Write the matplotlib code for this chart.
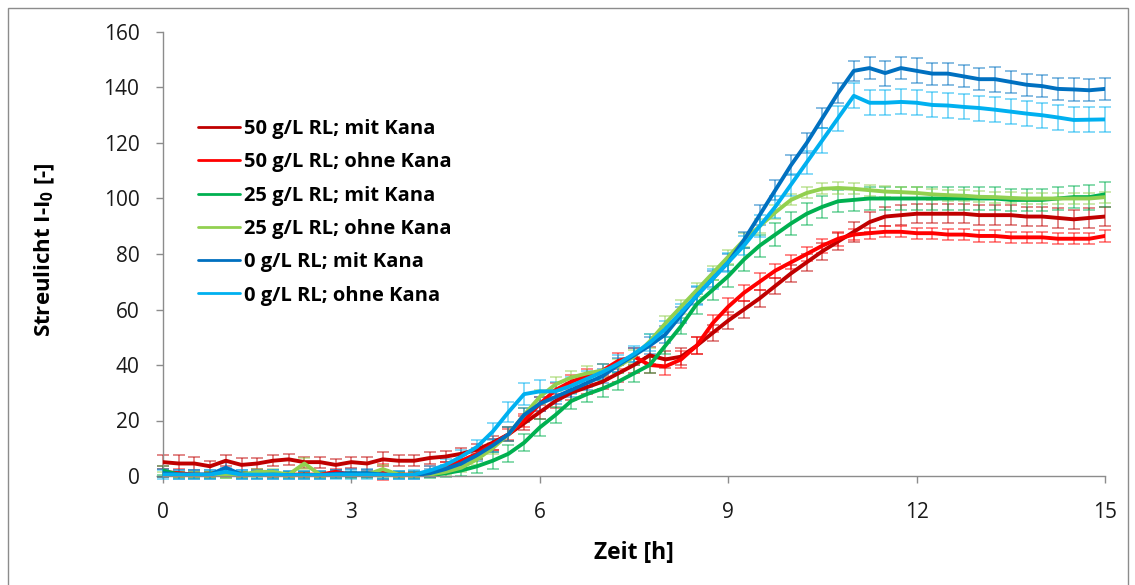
import numpy as np
import matplotlib
matplotlib.use("Agg")
import matplotlib.pyplot as plt
from matplotlib.patches import Rectangle

# ---------------- data ----------------
time_h = np.linspace(0, 15, 61)  # sampling every 15 min

labels = ["50 g/L RL; mit Kana", "50 g/L RL; ohne Kana",
          "25 g/L RL; mit Kana", "25 g/L RL; ohne Kana",
          "0 g/L RL; mit Kana", "0 g/L RL; ohne Kana"]
colors = ["#C00000", "#FF0000", "#00B050", "#92D050", "#0070C0", "#00B0F0"]

rl50_mit = [5, 4.5, 4.5, 3.5, 5.5, 4, 4.5, 5.5, 6, 5, 5, 4, 5, 4.5, 6, 5.5, 5.5, 6.5, 7, 8,
            9.5, 12, 15, 19, 23, 27, 30, 32, 34, 37, 40, 43.5, 42, 43, 47, 51.5, 56, 60, 64, 68.5,
            73, 77, 81, 84.5, 88, 91.5, 93.5, 94, 94.5, 94.5, 94.5, 94.5, 94, 94, 94, 93.5, 93.5, 93, 92.5, 93, 93.5]
rl50_ohne = [1.5, 1, 0.5, 0.5, 0.5, 0.5, 1, 0.5, 0.5, 0.5, 0.5, 1.5, 0.5, 0.5, 1.5, 0.5, 0.5, 1.5, 3, 5.5,
             8, 11.5, 15, 20, 26, 31, 34, 36, 38, 41.5, 43, 40, 39.5, 42, 47, 55, 61, 66, 70, 74,
             77, 80, 83, 85.5, 87, 87.5, 88, 88, 87.5, 87.5, 87, 87, 86.5, 86.5, 86, 86, 86, 85.5, 85.5, 85.5, 86.5]
rl25_mit = [2, 0.5, 0.3, 0.3, 0.3, 0.3, 0.3, 0.3, 0.3, 0.3, 0.3, 0.3, 0.3, 0.3, 0.3, 0.3, 0.3, 0.3, 1, 2,
            3.5, 5.5, 8, 12, 17.5, 22, 27, 29.5, 31.5, 34, 37, 40, 47, 54, 62, 67, 72, 78, 83, 87,
            91, 94.5, 97, 99, 99.5, 100, 100, 100, 100, 100, 100, 100, 100, 100, 99.5, 99.5, 99.5, 100, 100.5, 100.5, 101.5]
rl25_ohne = [0.5, 0.3, 0.3, 0.3, 0.3, 0.5, 1.5, 1.5, 0.5, 4.5, 0.5, 0.3, 0.3, 0.5, 2.5, 0.5, 0.3, 0.5, 1.5, 3,
             6, 10, 15, 22, 28.5, 33, 35.5, 37, 38, 39.5, 43, 48.5, 55, 61, 67, 73, 79, 85, 90, 95,
             99.5, 102, 103.5, 103.8, 103.5, 103, 102.5, 102.3, 102, 101.5, 101.2, 101, 100.6, 100.5, 100.2, 100, 100, 100, 100, 100, 100.5]
rl0_mit = [1, 0.5, 0.5, 0.5, 3, 0.5, 0.3, 0.5, 0.3, 0.3, 0.3, 0.8, 1, 1, 0.5, 0.3, 0.3, 1, 2.5, 4.5,
           7.5, 11, 15, 22, 26, 28.5, 31, 33.5, 36, 40, 43.5, 47, 51, 58, 65, 71, 77, 85, 94, 103,
           112, 120, 129, 138, 146, 147, 145.2, 147, 146, 145, 145, 144, 143, 143, 142, 141, 140.5, 139.5, 139.3, 139, 139.5]
rl0_ohne = [0.5, 0.5, 0.5, 0.5, 1.5, 0.5, 0.5, 0.5, 0.3, 0.3, 0.3, 0.5, 0.5, 0.5, 0.5, 0.3, 0.5, 2, 4, 7,
            10.5, 16, 23, 29.5, 30.5, 30.5, 32.5, 35, 37.5, 40.5, 44, 48, 53, 59, 65, 71, 77, 83, 90, 97,
            105, 113, 121, 129, 137, 134.5, 134.5, 134.8, 134.5, 133.7, 133.5, 133, 132.6, 132, 131.3, 130.6, 130, 129.2, 128.3, 128.4, 128.5]

err50_mit = [2.5, 3, 2.5, 2, 2, 2.5, 2, 2, 2, 2, 2, 2, 2, 2.5, 2.5, 2, 2, 2, 2, 2,
             2, 2.5, 2.5, 2.5, 2.5, 2.5, 2.5, 2.5, 2.5, 3, 3, 3, 3, 3, 3, 3, 3, 3, 3, 3,
             3, 3, 3, 3, 3.5, 3.5, 3.5, 3.5, 3.5, 3.5, 3.5, 3.5, 3.5, 3.5, 3.5, 3.5, 3.5, 3.5, 3.5, 3.5, 3.5]
err50_ohne = [2, 1.5, 1, 1, 1, 1, 1, 1, 1, 1, 1, 1, 1, 1, 3, 1, 1, 2, 2, 2,
              2, 2, 2, 2.5, 2.5, 2.5, 2.5, 2.5, 2.5, 3, 3, 3, 3, 3, 3, 3, 3, 3, 3, 2.5,
              2.5, 2.5, 2.5, 2.5, 2, 2, 2, 2, 2, 2, 2, 2, 2, 2, 2, 2, 2, 2, 2, 2, 2]
err25_mit = [1.5, 1, 1, 1, 1, 1, 1, 1, 1, 1, 1, 1, 1, 1, 1, 1, 1, 1, 1.5, 2,
             2.5, 3, 3, 3, 3, 3, 3, 3, 3, 3, 3, 3, 3, 3, 3.5, 3.5, 4, 4, 4, 4,
             4, 4, 4, 4, 4, 4, 4, 4, 4, 4, 4, 4, 4, 4, 4, 4, 4, 4, 4, 4.5, 4.5]
err25_ohne = [1, 1, 1, 1, 1, 1, 1, 1, 1, 2, 1, 1, 1, 1, 1.5, 1, 1, 1, 1, 1.5,
              2, 2, 2.5, 2.5, 2.5, 2.5, 2.5, 2.5, 2.5, 2.5, 2.5, 2.5, 2.5, 2.5, 2.5, 2.5, 2.5, 2.5, 2.5, 2.5,
              2, 2, 2, 2, 2, 2, 2, 2, 2, 2, 2, 2, 2, 2, 2, 2, 2, 2, 2, 2, 2]
err0_mit = [1.5, 1.5, 1.5, 1.5, 2, 1.5, 1.5, 1.5, 1.5, 1.5, 1.5, 1.5, 1.5, 1.5, 1.5, 1.5, 1.5, 1.5, 1.5, 1.5,
            2, 2.5, 2.5, 2.5, 2.5, 2.5, 2.5, 2.5, 2.5, 2.5, 2.5, 3, 3, 3, 3, 3, 3, 3, 3.5, 3.5,
            3.5, 3.5, 3.5, 3.5, 3.5, 4, 4.5, 4, 4.5, 4, 4, 4, 4, 4.5, 4, 4, 4, 4, 4, 4, 4]
err0_ohne = [1.5, 1.5, 1.5, 1.5, 1.5, 1.5, 1.5, 1.5, 1.5, 1.5, 1.5, 1.5, 1.5, 1.5, 1.5, 1.5, 1.5, 1.5, 2, 2.5,
             2.5, 3, 3.5, 4, 4, 3.5, 3, 3, 3, 3, 3, 3, 3, 3, 3.5, 3.5, 3.5, 3.5, 4, 4,
             4, 4, 4.5, 4.5, 4.5, 4.5, 4.5, 4.5, 4.5, 4.5, 4.5, 4.5, 4.5, 4.5, 4.5, 4.5, 4.5, 4.5, 4.5, 4.5, 4.5]

series = [rl50_mit, rl50_ohne, rl25_mit, rl25_ohne, rl0_mit, rl0_ohne]
errors = [err50_mit, err50_ohne, err25_mit, err25_ohne, err0_mit, err0_ohne]

x_ticks = [0, 3, 6, 9, 12, 15]
y_ticks = [0, 20, 40, 60, 80, 100, 120, 140, 160]

FONT = "Open Sans"

# ---------------- figure ----------------
W, H = 1135, 585
fig = plt.figure(figsize=(W / 100, H / 100), dpi=100)
ax = fig.add_axes([163 / W, 1 - 476 / H, (1105 - 163) / W, (476 - 32) / H])

fig.patches.append(Rectangle((8 / W, -0.01), (1128 - 8) / W, 1 - 8 / H + 0.01,
                             transform=fig.transFigure, fill=False,
                             edgecolor="#8C8C8C", linewidth=1.0))

for vals, errs, c in zip(series, errors, colors):
    ax.errorbar(time_h, vals, yerr=errs, fmt="none", ecolor=c, alpha=0.5,
                elinewidth=1.3, capsize=4.5, capthick=1.3, zorder=2, clip_on=False)

for vals, c, lab in zip(series, colors, labels):
    ax.plot(time_h, vals, color=c, linewidth=2.8, label=lab, zorder=3,
            solid_joinstyle="round", solid_capstyle="round")

ax.set_xlim(0, 15)
ax.set_ylim(0, 160)
ax.set_xticks(x_ticks)
ax.set_yticks(y_ticks)

for s in ["top", "right"]:
    ax.spines[s].set_visible(False)
for s in ["left", "bottom"]:
    ax.spines[s].set_color("#8C8C8C")
    ax.spines[s].set_linewidth(1.0)

ax.tick_params(axis="both", direction="out", color="#8C8C8C", length=5, width=1.0,
               labelsize=15, labelcolor="#1a1a1a")
ax.tick_params(axis="y", pad=12)
ax.tick_params(axis="x", pad=14)
for lab in ax.get_xticklabels() + ax.get_yticklabels():
    lab.set_fontfamily(FONT)

ax.set_xlabel("Zeit [h]", fontsize=16.5, fontweight="bold", family=FONT)
ax.xaxis.set_label_coords(0.5, -(541 - 476) / (476 - 32))
ax.set_ylabel("Streulicht I-I$_\\mathregular{0}$ [-]", fontsize=16, fontweight="bold", family=FONT)
ax.yaxis.set_label_coords(-(163 - 57) / (1105 - 163), (476 - 250) / (476 - 32))

leg = ax.legend(loc="upper left", bbox_to_anchor=((190 - 163) / 942, (476 - 111) / 444),
                frameon=False, prop={"family": FONT, "weight": "bold", "size": 14.5},
                handlelength=2.1, handletextpad=0.2, labelspacing=0.66, borderaxespad=0)
for h in leg.get_lines():
    h.set_linewidth(2.0)

fig.savefig("out.png", dpi=100)
